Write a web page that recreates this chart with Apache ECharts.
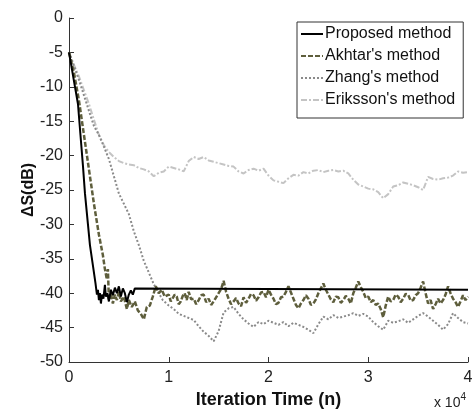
<!DOCTYPE html>
<html>
<head>
<meta charset="utf-8">
<script src="https://cdn.jsdelivr.net/npm/echarts@6/dist/echarts.min.js"></script>
<style>html,body{margin:0;padding:0;background:#fff}#c{width:472px;height:410px}</style>
</head>
<body>
<div id="c"></div>
<script>
// x values in units of 10^4 iterations, y values in dB
var seriesNames = ["Proposed method", "Akhtar's method", "Zhang's method", "Eriksson's method"];
var xTicks = ["0", "1", "2", "3", "4"];
var yTicks = [0, -5, -10, -15, -20, -25, -30, -35, -40, -45, -50];

var proposedN = [0, 0.03, 0.06, 0.09, 0.115, 0.14, 0.16, 0.19, 0.21, 0.24, 0.265, 0.28, 0.29, 0.30, 0.31, 0.32, 0.33, 0.345, 0.36, 0.37, 0.385, 0.40, 0.42, 0.44, 0.46, 0.48, 0.50, 0.52, 0.54, 0.56, 0.58, 0.60, 0.62, 0.64, 0.66, 0.68, 4];
var proposedS = [-5, -7.5, -10, -12.5, -17, -21.5, -25.5, -30, -33, -36, -38.5, -40.2, -39.5, -41, -40, -41.5, -40.2, -40.8, -38.8, -40.5, -40, -41.2, -39.5, -40.3, -39.2, -40, -39, -40.5, -39.3, -40, -41.3, -40.2, -39.6, -40.2, -39.3, -39.5, -39.5];

var akhtarN = [0, 0.05, 0.1, 0.15, 0.2, 0.25, 0.3, 0.34, 0.36, 0.38, 0.39, 0.40, 0.42, 0.44, 0.46, 0.48, 0.50, 0.52, 0.55, 0.58, 0.60, 0.63, 0.66, 0.69, 0.72, 0.75, 0.78, 0.81, 0.84, 0.87, 0.90, 0.93, 0.96, 1.0, 1.02, 1.04, 1.06, 1.08, 1.10, 1.12, 1.14, 1.16, 1.18, 1.2, 1.225, 1.25, 1.275, 1.3, 1.325, 1.35, 1.375, 1.4, 1.425, 1.45, 1.475, 1.5, 1.525, 1.55, 1.575, 1.6, 1.625, 1.65, 1.675, 1.7, 1.725, 1.75, 1.775, 1.8, 1.825, 1.85, 1.875, 1.9, 1.925, 1.95, 1.975, 2.0, 2.025, 2.05, 2.075, 2.1, 2.125, 2.15, 2.175, 2.2, 2.225, 2.25, 2.275, 2.3, 2.325, 2.35, 2.375, 2.4, 2.425, 2.45, 2.475, 2.5, 2.525, 2.55, 2.575, 2.6, 2.625, 2.65, 2.675, 2.7, 2.725, 2.75, 2.775, 2.8, 2.825, 2.85, 2.875, 2.9, 2.925, 2.95, 2.975, 3.0, 3.025, 3.05, 3.075, 3.1, 3.125, 3.15, 3.175, 3.2, 3.225, 3.25, 3.275, 3.3, 3.325, 3.35, 3.375, 3.4, 3.425, 3.45, 3.475, 3.5, 3.525, 3.55, 3.575, 3.6, 3.625, 3.65, 3.675, 3.7, 3.725, 3.75, 3.775, 3.8, 3.825, 3.85, 3.875, 3.9, 3.925, 3.95, 3.975, 4.0];
var akhtarS = [-5, -8, -12, -17, -22, -27, -31.5, -34.5, -36.5, -38, -36.5, -41, -40, -41.5, -40.2, -41, -39.8, -41.2, -40.5, -42.3, -41, -42, -41.2, -42.5, -43, -43.8, -42, -41.8, -40.5, -39, -40, -39.5, -40.5, -40.2, -41.2, -41, -40.2, -40.5, -41.6, -41.2, -40.4, -40, -41, -39.8, -40.9, -40.8, -41.6, -41, -40.3, -40.2, -41.3, -40.8, -41.7, -41.2, -40.6, -40, -39.4, -38.2, -39.8, -40.8, -41.6, -41.2, -40.7, -41.5, -41.9, -40.6, -41.4, -40.8, -40.1, -40.3, -41.1, -40.6, -39.9, -39.8, -40.6, -39.5, -40.2, -40.8, -41.6, -41.4, -40.6, -40.5, -39.8, -39, -39.9, -40.8, -41.7, -42.2, -41.5, -41, -40.3, -40.8, -41.7, -41.5, -40.9, -40, -39.3, -38.6, -39.5, -40.2, -40.9, -41.3, -40.5, -40.6, -41.4, -41, -40.4, -40.8, -41.5, -40, -39.2, -38.3, -39.1, -39.8, -40.7, -40.5, -41.3, -41, -41.7, -41.5, -42.3, -43.5, -41.8, -40.5, -41.2, -41, -40.2, -40.5, -41.3, -40.8, -40.1, -40.2, -41.1, -41, -40.3, -40, -39.2, -38.3, -40, -41.5, -41, -42.3, -41.6, -40.8, -41.5, -41, -40.2, -39, -40, -40.8, -41.3, -42, -41.2, -40.3, -41, -40.5];

var zhangN = [0, 0.1, 0.2, 0.25, 0.3, 0.35, 0.4, 0.45, 0.5, 0.55, 0.6, 0.65, 0.7, 0.75, 0.8, 0.85, 0.9, 0.94, 1.0, 1.05, 1.1, 1.15, 1.2, 1.25, 1.3, 1.35, 1.4, 1.45, 1.5, 1.55, 1.6, 1.65, 1.7, 1.75, 1.8, 1.85, 1.9, 1.95, 2.0, 2.05, 2.1, 2.15, 2.2, 2.25, 2.3, 2.35, 2.4, 2.45, 2.5, 2.55, 2.6, 2.65, 2.7, 2.75, 2.8, 2.85, 2.9, 2.95, 3.0, 3.05, 3.1, 3.15, 3.2, 3.25, 3.3, 3.35, 3.4, 3.45, 3.5, 3.55, 3.6, 3.65, 3.7, 3.75, 3.8, 3.85, 3.9, 3.95, 4.0];
var zhangS = [-5, -9, -13.5, -15.7, -17, -18.7, -20.5, -23, -25.5, -27, -28.5, -31, -33, -35.3, -37, -38.7, -40, -41, -41.8, -42.3, -43, -43.3, -43.6, -43.9, -44.8, -45.6, -46.2, -47, -45.5, -42.8, -42.2, -42, -43, -43.8, -44.4, -44.9, -44.2, -44.5, -44, -44.3, -44.6, -44.2, -44.8, -44.3, -44.6, -44.9, -45.3, -45.8, -44.5, -43.4, -43.8, -43.2, -43.6, -43.4, -43.2, -42.9, -43.3, -43, -43.4, -44.2, -44.8, -45.3, -44, -44.3, -44.1, -43.8, -44.3, -43.8, -43.3, -42.9, -43.4, -44, -44.6, -45.3, -44.5, -42.9, -43.6, -44.2, -44.4];

var erikssonN = [0, 0.05, 0.1, 0.15, 0.2, 0.25, 0.3, 0.35, 0.4, 0.45, 0.5, 0.55, 0.6, 0.65, 0.7, 0.75, 0.8, 0.85, 0.9, 0.95, 1.0, 1.05, 1.1, 1.15, 1.2, 1.25, 1.3, 1.35, 1.4, 1.45, 1.5, 1.55, 1.6, 1.65, 1.7, 1.75, 1.8, 1.85, 1.9, 1.95, 2.0, 2.05, 2.1, 2.15, 2.2, 2.25, 2.3, 2.35, 2.4, 2.45, 2.5, 2.55, 2.6, 2.65, 2.7, 2.75, 2.8, 2.85, 2.9, 2.95, 3.0, 3.05, 3.1, 3.15, 3.2, 3.25, 3.3, 3.35, 3.4, 3.45, 3.5, 3.55, 3.6, 3.65, 3.7, 3.75, 3.8, 3.85, 3.9, 3.95, 4.0];
var erikssonS = [-5, -6.8, -8.5, -10.5, -12.5, -14.8, -17, -18.5, -19.5, -20.2, -20.8, -21.1, -21.3, -21.4, -21.8, -22, -22.3, -23, -22.5, -22.3, -21.6, -21.8, -22, -22.3, -20.8, -20.2, -20.5, -20.2, -20.7, -20.9, -21.1, -21.3, -21.5, -21.6, -22.3, -22.6, -22.1, -21.9, -22.2, -21.9, -22.9, -23.6, -23.8, -24, -23.3, -22.8, -22.9, -22.4, -22.6, -22.2, -22.1, -22.4, -22.2, -22.1, -22.3, -22.2, -22.6, -23.5, -24.2, -24.5, -24.8, -24.9, -25.3, -26.2, -25.6, -24.5, -24.3, -23.9, -24.1, -24.3, -24.6, -25, -23.1, -23.4, -23.5, -23.3, -23.2, -22.9, -22.3, -22.5, -22.4];

function pairs(xs, ys) { return xs.map(function (x, i) { return [x, ys[i]]; }); }

var FONT = '"Liberation Sans", Arial, sans-serif';
var chart = echarts.init(document.getElementById('c'), null, { renderer: 'canvas' });
chart.setOption({
  animation: false,
  backgroundColor: '#fff',
  grid: { left: 69, right: 4, top: 18, bottom: 48, containLabel: false, outerBoundsMode: 'none' },
  legend: {
    orient: 'vertical', left: 297, top: 22,
    backgroundColor: '#fff', borderColor: '#333', borderWidth: 1, borderRadius: 0,
    padding: [4, 8, 10, 3], itemGap: 6, itemWidth: 22, itemHeight: 16,
    itemStyle: { opacity: 0 },
    textStyle: { fontFamily: FONT, fontSize: 16, lineHeight: 16, color: '#111', padding: [0, 0, 0, -3] },
    data: seriesNames
  },
  xAxis: {
    type: 'value', min: 0, max: 4, interval: 1,
    name: 'Iteration Time (n)', nameLocation: 'middle', nameGap: 20,
    nameTextStyle: { fontFamily: FONT, fontSize: 18, fontWeight: 'bold', color: '#111' },
    axisLine: { show: true, onZero: false, lineStyle: { color: '#333', width: 1 } },
    axisTick: { show: true, inside: true, length: 5, lineStyle: { color: '#333' } },
    axisLabel: { fontFamily: FONT, fontSize: 16, color: '#222', margin: 8,
      formatter: function (v) { return xTicks[Math.round(v)]; } },
    splitLine: { show: false }
  },
  yAxis: {
    type: 'value', min: -50, max: 0, interval: 5,
    name: 'ΔS(dB)', nameLocation: 'middle', nameGap: 32, nameRotate: 90, nameMoveOverlap: false,
    nameTextStyle: { fontFamily: FONT, fontSize: 16, fontWeight: 'bold', color: '#111' },
    axisLine: { show: true, onZero: false, lineStyle: { color: '#333', width: 1 } },
    axisTick: { show: true, inside: true, length: 5, lineStyle: { color: '#333' } },
    axisLabel: { fontFamily: FONT, fontSize: 16, color: '#222', margin: 6,
      formatter: function (v) { return yTicks.indexOf(v) >= 0 ? String(v) : ''; } },
    splitLine: { show: false }
  },
  graphic: [{
    type: 'text', right: 6, top: 392,
    style: {
      text: '{a|x 10}{b|4}',
      rich: {
        a: { fontFamily: FONT, fontSize: 14, fill: '#222', verticalAlign: 'bottom', lineHeight: 18 },
        b: { fontFamily: FONT, fontSize: 10, fill: '#222', verticalAlign: 'top', lineHeight: 10 }
      }
    }
  }],
  series: [
    { name: seriesNames[3], type: 'line', symbol: 'none', z: 1,
      lineStyle: { color: '#c4c4c4', width: 2, type: [6, 2, 2, 2] }, itemStyle: { color: '#c4c4c4' },
      data: pairs(erikssonN, erikssonS) },
    { name: seriesNames[2], type: 'line', symbol: 'none', z: 2,
      lineStyle: { color: '#8a8a8a', width: 2, type: [2, 2] }, itemStyle: { color: '#8a8a8a' },
      data: pairs(zhangN, zhangS) },
    { name: seriesNames[1], type: 'line', symbol: 'none', z: 3,
      lineStyle: { color: '#5e5e3c', width: 2.5, type: [5, 2] }, itemStyle: { color: '#5e5e3c' },
      data: pairs(akhtarN, akhtarS) },
    { name: seriesNames[0], type: 'line', symbol: 'none', z: 4,
      lineStyle: { color: '#000', width: 2 }, itemStyle: { color: '#000' },
      data: pairs(proposedN, proposedS) }
  ]
});
</script>
</body>
</html>
